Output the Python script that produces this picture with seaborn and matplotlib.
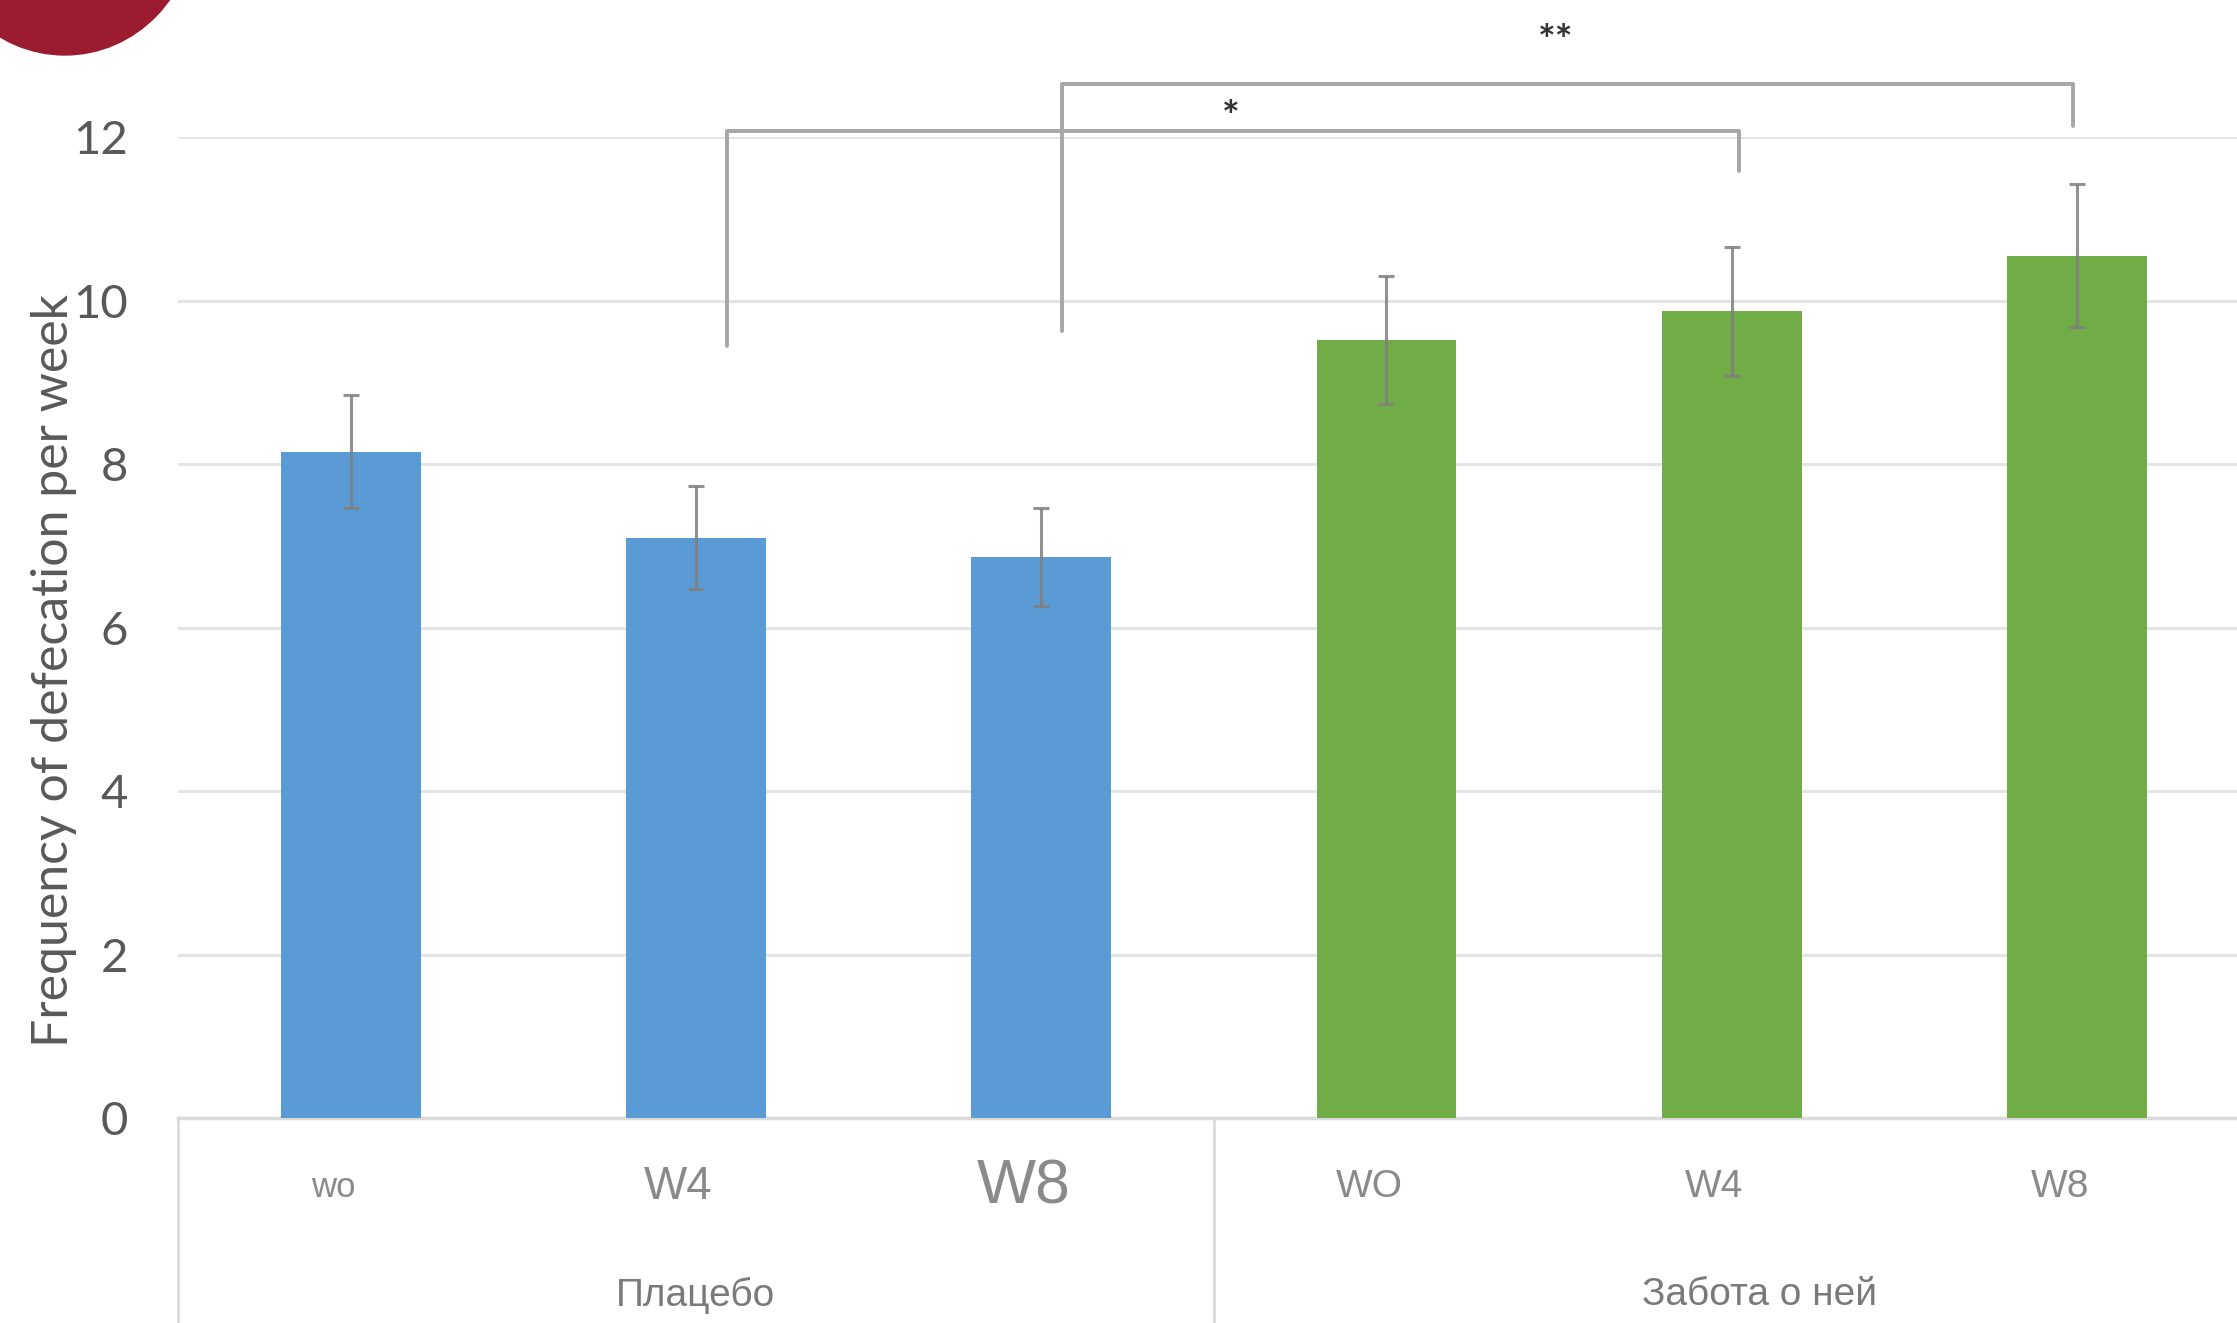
import numpy as np
import pandas as pd

import matplotlib as mpl
import matplotlib.pyplot as plt
from matplotlib.patches import Ellipse
import matplotlib.transforms as mtrans

import seaborn as sns


groups = ['Плацебо', 'Плацебо', 'Плацебо', 'Забота о ней', 'Забота о ней', 'Забота о ней']
weeks = ['wo', 'W4', 'W8', 'WO', 'W4', 'W8']
values = [8.15, 7.10, 6.87, 9.52, 9.87, 10.55]
errors = [0.69, 0.63, 0.60, 0.78, 0.79, 0.87]
group_names = ['Плацебо', 'Забота о ней']
bar_colors = ['#5B9BD5'] * 3 + ['#70AD47'] * 3

df = pd.DataFrame({'slot': [f'{g} {w} {i}' for i, (g, w) in enumerate(zip(groups, weeks))],
                   'group': groups, 'week': weeks, 'value': values})

sns.set_style('white')
plt.rcParams['font.family'] = ['Lato', 'DejaVu Sans']

fig = plt.figure(figsize=(22.37, 13.23), dpi=100)
ax = fig.add_axes([0.0796, 0.1546, 0.926, 0.7418])

sns.barplot(df, x='slot', y='value', hue='slot', palette=bar_colors, saturation=1,
            legend=False, width=0.405, ax=ax, linewidth=0, zorder=3)
ax.errorbar(np.arange(len(values)), values, yerr=errors, fmt='none',
            ecolor='#7f7f7f', elinewidth=2.2, capsize=6, capthick=2.2, zorder=4, alpha=0.85)

ax.set_xlim(-0.5, 5.5)
ax.set_ylim(0, 12)
ax.set_yticks(range(0, 13, 2))
ax.tick_params(axis='y', length=0, pad=36, labelsize=34, labelcolor='#595959')
ax.set_xticks([])
ax.set_xlabel('')
ax.grid(axis='y', color='#e4e4e4', lw=2.2, zorder=0)
for s in ['top', 'right', 'left']:
    ax.spines[s].set_visible(False)
ax.spines['bottom'].set_color('#dadada')
ax.spines['bottom'].set_linewidth(2.5)

ax.set_ylabel('Frequency of defecation per week', fontsize=36, color='#595959')
ax.yaxis.set_label_coords(-0.049, 0.456)

# category table under the axis
tr = mtrans.blended_transform_factory(ax.transData, ax.transAxes)
for xv in [-0.5, 2.5, 5.5]:
    ax.plot([xv, xv], [0, -0.25], transform=tr, color='#dadada', lw=2, clip_on=False)

week_sizes = [25, 33, 45, 28, 28, 28]
for i, (w, fs) in enumerate(zip(weeks, week_sizes)):
    ax.text(i - 0.05, -0.07, w, transform=tr, ha='center', va='center', fontsize=fs,
            color='#8a8a8a', family=['Liberation Sans Narrow', 'Liberation Sans'])
for gi, g in enumerate(group_names):
    ax.text(gi * 3 + 1 + (0.08 if gi else 0), -0.18, g, transform=tr, ha='center', va='center',
            fontsize=28, color='#7a7a7a', family=['Liberation Sans Narrow', 'Liberation Sans'])

# significance brackets
br = '#a6a6a6'
ax.plot([1.09, 1.09, 4.02, 4.02], [9.44, 12.07, 12.07, 11.58], color=br, lw=2.8, clip_on=False, zorder=5)
ax.plot([2.06, 2.06, 4.99, 4.99], [9.63, 12.65, 12.65, 12.14], color=br, lw=2.8, clip_on=False, zorder=5)
ax.text(2.55, 12.22, '*', ha='center', va='center', fontsize=30, fontweight='bold', color='#333333', clip_on=False)
ax.text(3.49, 13.15, '**', ha='center', va='center', fontsize=30, fontweight='bold', color='#333333', clip_on=False)

# red circle in the corner
fig.add_artist(Ellipse((0.029, 1.0605), 0.1160, 0.2041, transform=fig.transFigure,
                       color='#9B1B30', clip_on=False))

fig.savefig('out.png', dpi=100)
